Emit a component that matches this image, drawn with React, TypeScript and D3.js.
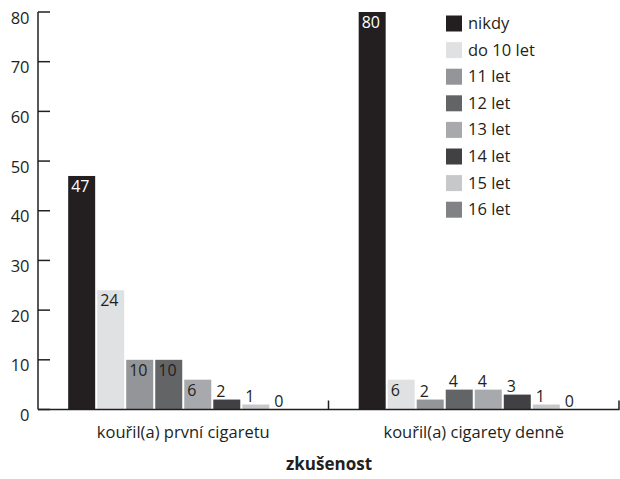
import React from "react";
import * as d3 from "d3";

const categories = ["kouřil(a) první cigaretu", "kouřil(a) cigarety denně"];
const seriesNames = ["nikdy", "do 10 let", "11 let", "12 let", "13 let", "14 let", "15 let", "16 let"];
const seriesColors = ["#231f20", "#e0e1e3", "#939598", "#636466", "#a7a9ac", "#414042", "#c7c8ca", "#808285"];
const nikdy = [47, 80];
const do10 = [24, 6];
const let11 = [10, 2];
const let12 = [10, 4];
const let13 = [6, 4];
const let14 = [2, 3];
const let15 = [1, 1];
const let16 = [0, 0];
const seriesValues = [nikdy, do10, let11, let12, let13, let14, let15, let16];
const yTicks = [0, 10, 20, 30, 40, 50, 60, 70, 80];
const axisTitle = "zkušenost";

const W = 620;
const H = 479;
const FONT = "'Open Sans', 'Noto Sans', sans-serif";
const INK = "#231f20";
const FS = 16.5;

export default function App() {
  const x0 = d3.scaleBand<string>().domain(categories).range([38, 619]).padding(0);
  const x1 = d3
    .scaleBand<string>()
    .domain(seriesNames)
    .range([0, x0.bandwidth()])
    .paddingInner(0.07)
    .paddingOuter(1.04);
  const y = d3.scaleLinear().domain([0, 80]).range([409.5, 12]);
  const y0 = y(0);

  return (
    <svg
      width={W}
      height={H}
      style={{ position: "absolute", left: 0, top: 0, background: "#fff" }}
      fontFamily={FONT}
    >
      {/* bars */}
      {categories.map((c, ci) => (
        <g key={c} transform={`translate(${x0(c)},0)`}>
          {seriesNames.map((s, si) => {
            const v = seriesValues[si][ci];
            const bx = x1(s)!;
            const top = y(v);
            const h = y0 - top;
            const inside = h >= 25;
            return (
              <g key={s}>
                {v > 0 && (
                  <rect x={bx} y={top} width={x1.bandwidth()} height={h} fill={seriesColors[si]} />
                )}
                <text
                  x={bx + 3}
                  y={inside ? top + 16 : top - 3}
                  fontSize={16}
                  fill={inside && si === 0 ? "#fff" : INK}
                >
                  {v}
                </text>
              </g>
            );
          })}
        </g>
      ))}

      {/* y axis */}
      <line x1={38} x2={38} y1={y(80)} y2={y0} stroke={INK} strokeWidth={1.5} />
      {yTicks.map((t) => (
        <g key={t}>
          <line x1={38} x2={50} y1={y(t)} y2={y(t)} stroke={INK} strokeWidth={1.5} />
          <text x={29.5} y={y(t) + 11.5} textAnchor="end" fontSize={FS} fill={INK}>
            {t}
          </text>
        </g>
      ))}

      {/* x axis */}
      <line x1={38} x2={619.5} y1={y0} y2={y0} stroke={INK} strokeWidth={1.5} />
      {categories.map((c) => (
        <line
          key={c}
          x1={x0(c)! + x0.bandwidth()}
          x2={x0(c)! + x0.bandwidth()}
          y1={y0}
          y2={y0 - 9}
          stroke={INK}
          strokeWidth={1.5}
        />
      ))}
      {categories.map((c) => (
        <text
          key={c}
          x={x0(c)! + x0.bandwidth() / 2}
          y={438}
          textAnchor="middle"
          fontSize={FS}
          fill={INK}
        >
          {c}
        </text>
      ))}
      <text x={329} y={469.5} textAnchor="middle" fontSize={17} fontWeight="bold" fill={INK}>
        {axisTitle}
      </text>

      {/* legend */}
      {seriesNames.map((s, i) => {
        const cy = 23.5 + i * 26.6;
        return (
          <g key={s}>
            <rect x={446} y={cy - 8} width={16} height={16} fill={seriesColors[i]} />
            <text x={468} y={cy + 5.5} fontSize={FS} fill={INK}>
              {s}
            </text>
          </g>
        );
      })}
    </svg>
  );
}
